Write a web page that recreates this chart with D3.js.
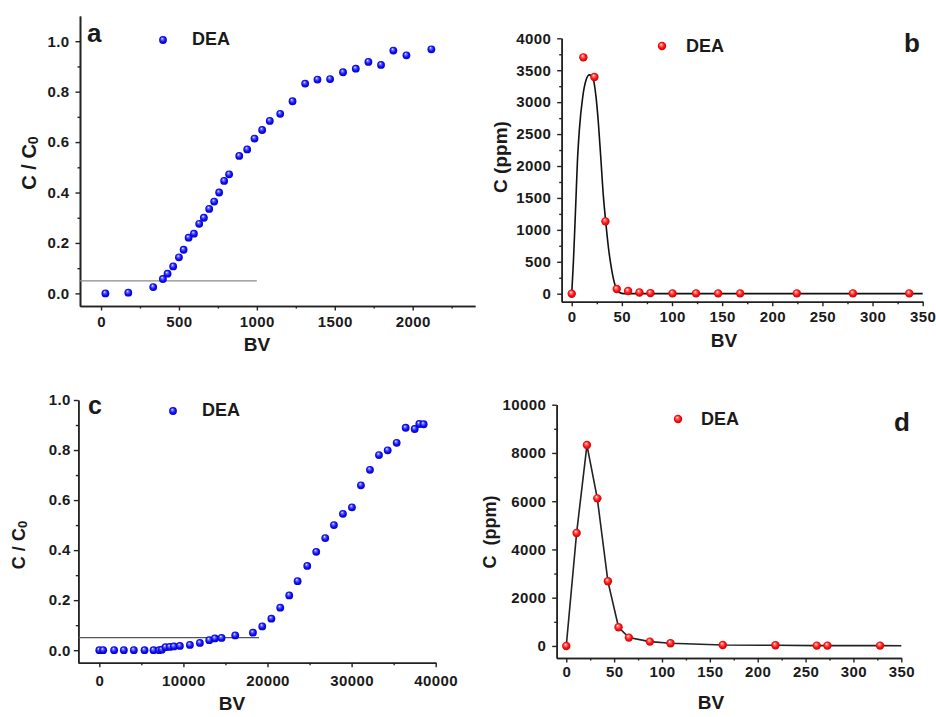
<!DOCTYPE html>
<html>
<head>
<meta charset="utf-8">
<script src="https://cdn.jsdelivr.net/npm/d3@7"></script>
<style>
  body { margin: 0; background: #fff; }
  text { font-family: "Liberation Sans", Arial, sans-serif; font-weight: bold; fill: #1a1a1a; }
</style>
</head>
<body>
<script>
// panel a: breakthrough curve C/C0 vs BV
const aBV  = [28,175,335,397,427,463,500,530,562,596,630,660,694,726,758,790,822,887,938,985,1034,1083,1150,1229,1310,1389,1470,1553,1635,1716,1797,1876,1960,2120];
const aCC0 = [0,0.003,0.025,0.057,0.078,0.107,0.143,0.173,0.221,0.237,0.276,0.300,0.335,0.364,0.40,0.446,0.472,0.545,0.571,0.614,0.648,0.684,0.712,0.762,0.832,0.848,0.850,0.877,0.891,0.918,0.906,0.963,0.944,0.968];
const aLimit = { y: 0.05, to: 1000 };

// panel b: elution C (ppm) vs BV, with fitted curve
const bBV = [0,11.6,22.6,33.6,44.9,56.2,67.5,78.5,100.5,124,146,168,224.5,280.4,336.6];
const bC  = [0,3702,3395,1133,73,42,20,10,5,5,5,5,5,5,5];
const bFitBV = [0,1.6,3.0,4.3,5.6,7.6,11.0,14.3,17.6,21.6,24.2,26.6,28.9,31.6,33.9,36.5,39.9,43.2,46.5,51.5,100,200,350];
const bFitC  = [0,476,998,1520,2043,2565,3087,3348,3427,3348,3087,2670,2148,1520,1128,736,371,136,31,2,2,2,2];

// panel c: breakthrough curve C/C0 vs BV
const cBV  = [0,455,1760,2915,4105,5375,6445,7120,7435,7870,8390,8865,9580,10770,11960,13070,13740,14535,16160,18265,19375,20460,21515,22585,23580,24725,25795,26865,27900,28970,30040,31110,32185,33255,34290,35360,36430,37500,38050,38570];
const cCC0 = [0,0,0,0,0,0,0,0,0.002,0.012,0.013,0.015,0.017,0.021,0.029,0.04,0.047,0.049,0.059,0.070,0.095,0.126,0.170,0.219,0.276,0.337,0.393,0.448,0.5,0.545,0.571,0.659,0.721,0.78,0.799,0.829,0.889,0.884,0.904,0.903];
const cLimit = { y: 0.05, to: 19000 };

// panel d: elution C (ppm) vs BV
const dBV = [0,10.8,21.6,32.4,43.5,54.6,65.4,87.3,108.9,163.5,218.5,261.7,272.8,327.8];
const dC  = [0,4681,8327,6118,2679,773,345,180,110,41,28,14,14,14];
const dTailBV = [350];
const dTailC  = [10];

const svg = d3.select('body').append('svg')
    .attr('width', 936)
    .attr('height', 717);

const defs = svg.append('defs');
function ball(id, light, mid, dark) {
    const gr = defs.append('radialGradient').attr('id', id)
        .attr('cx', '50%').attr('cy', '50%').attr('r', '55%')
        .attr('fx', '38%').attr('fy', '30%');
    gr.append('stop').attr('offset', '0%').attr('stop-color', '#ffffff');
    gr.append('stop').attr('offset', '22%').attr('stop-color', light);
    gr.append('stop').attr('offset', '60%').attr('stop-color', mid);
    gr.append('stop').attr('offset', '100%').attr('stop-color', dark);
}
ball('blue', '#7777ff', '#0f0fff', '#0000b0');
ball('red', '#ff8080', '#ff1010', '#c00000');

function styleAxis(g, fs) {
    g.select('.domain').attr('stroke', '#222').attr('stroke-width', 1.6);
    g.selectAll('.tick line').attr('stroke', '#222').attr('stroke-width', 1.4);
    g.selectAll('.tick text').attr('fill', '#1a1a1a')
        .style('font-size', fs + 'px').style('letter-spacing', '0.4px');
}

function panel(o) {
    const x = d3.scaleLinear().domain(o.xDom).range([o.left, o.right]);
    const y = d3.scaleLinear().domain(o.yDom).range([o.bottom, o.top]);
    const g = svg.append('g');

    g.append('g').attr('transform', `translate(0,${o.bottom})`)
        .call(d3.axisBottom(x).tickValues(o.xMinor).tickSize(2.5).tickSizeOuter(0).tickFormat(''))
        .call(s => styleAxis(s, 15));
    g.append('g').attr('transform', `translate(${o.left},0)`)
        .call(d3.axisLeft(y).tickValues(o.yMinor).tickSize(2.5).tickSizeOuter(0).tickFormat(''))
        .call(s => styleAxis(s, 15));

    g.append('g').attr('transform', `translate(0,${o.bottom})`)
        .call(d3.axisBottom(x).tickValues(o.xTicks).tickSize(4.5).tickSizeOuter(0)
            .tickPadding(o.xPad).tickFormat(o.xFmt || d3.format('d')))
        .call(s => styleAxis(s, 15));
    g.append('g').attr('transform', `translate(${o.left},0)`)
        .call(d3.axisLeft(y).tickValues(o.yTicks).tickSize(4.5).tickSizeOuter(0)
            .tickPadding(o.yPad).tickFormat(o.yFmt || d3.format('d')))
        .call(s => styleAxis(s, 15));

    return { x, y, g };
}

function dots(p, xs, ys, fill, r) {
    p.g.append('g').selectAll('circle')
        .data(xs.map((v, i) => [v, ys[i]]))
        .enter()
        .append('circle')
        .attr('cx', d => p.x(d[0]))
        .attr('cy', d => p.y(d[1]))
        .attr('r', r)
        .attr('fill', `url(#${fill})`);
}

function legend(p, mx, my, tx, ty, fill, r) {
    p.g.append('circle').attr('cx', mx).attr('cy', my).attr('r', r).attr('fill', `url(#${fill})`);
    p.g.append('text').attr('x', tx).attr('y', ty).style('font-size', '18px').text('DEA');
}

// ---- a ----
const pa = panel({
    left: 80, right: 475, top: 16, bottom: 306,
    xDom: [-135, 2400], yDom: [-0.05, 1.1],
    xTicks: d3.range(0, 2001, 500), xMinor: d3.range(250, 2400, 500),
    yTicks: d3.range(0, 1.01, 0.2), yMinor: d3.range(0.1, 1.0, 0.2),
    yFmt: d3.format('.1f'), xPad: 6, yPad: 6
});
pa.g.append('line')
    .attr('x1', pa.x(-135)).attr('x2', pa.x(aLimit.to))
    .attr('y1', pa.y(aLimit.y)).attr('y2', pa.y(aLimit.y))
    .attr('stroke', '#8a8a8a').attr('stroke-width', 1.3);
dots(pa, aBV, aCC0, 'blue', 3.9);
legend(pa, 163, 40, 192, 45, 'blue', 3.9);
pa.g.append('text').attr('x', 87).attr('y', 42).style('font-size', '26px').text('a');
pa.g.append('text').attr('transform', 'translate(36,163) rotate(-90)')
    .attr('text-anchor', 'middle').style('font-size', '20px')
    .call(t => { t.append('tspan').text('C / C'); t.append('tspan').attr('dy', 2).style('font-size', '14px').text('0'); });
pa.g.append('text').attr('x', 257).attr('y', 351).attr('text-anchor', 'middle').style('font-size', '19px').text('BV');

// ---- b ----
const pb = panel({
    left: 561.7, right: 922.7, top: 38.3, bottom: 301.7,
    xDom: [-10, 350], yDom: [-125, 4000],
    xTicks: d3.range(0, 351, 50), xMinor: d3.range(25, 350, 50),
    yTicks: d3.range(0, 4001, 500), yMinor: d3.range(250, 4000, 500),
    xPad: 5, yPad: 6
});
pb.g.append('path')
    .datum(bFitBV.map((v, i) => [v, bFitC[i]]))
    .attr('fill', 'none').attr('stroke', '#111').attr('stroke-width', 1.6)
    .attr('d', d3.line().x(d => pb.x(d[0])).y(d => pb.y(d[1])).curve(d3.curveMonotoneX));
dots(pb, bBV, bC, 'red', 4.2);
legend(pb, 662, 46, 686, 52, 'red', 4.2);
pb.g.append('text').attr('x', 904).attr('y', 52).style('font-size', '26px').text('b');
pb.g.append('text').attr('transform', 'translate(507,157) rotate(-90)')
    .attr('text-anchor', 'middle').style('font-size', '19px').text('C (ppm)');
pb.g.append('text').attr('x', 724).attr('y', 347).attr('text-anchor', 'middle').style('font-size', '19px').text('BV');

// ---- c ----
const pc = panel({
    left: 78.3, right: 435.7, top: 400, bottom: 662.7,
    xDom: [-2500, 40000], yDom: [-0.05, 1.0],
    xTicks: d3.range(0, 40001, 10000), xMinor: d3.range(5000, 40000, 10000),
    yTicks: d3.range(0, 1.01, 0.2), yMinor: d3.range(0.1, 1.0, 0.2),
    yFmt: d3.format('.1f'), xPad: 8, yPad: 3
});
pc.g.append('line')
    .attr('x1', pc.x(-2500)).attr('x2', pc.x(cLimit.to))
    .attr('y1', pc.y(cLimit.y)).attr('y2', pc.y(cLimit.y))
    .attr('stroke', '#555').attr('stroke-width', 1.3);
dots(pc, cBV, cCC0, 'blue', 3.9);
legend(pc, 173, 411, 202, 416, 'blue', 3.9);
pc.g.append('text').attr('x', 88).attr('y', 414).style('font-size', '25px').text('c');
pc.g.append('text').attr('transform', 'translate(25,545) rotate(-90)')
    .attr('text-anchor', 'middle').style('font-size', '18px')
    .call(t => { t.append('tspan').text('C / C'); t.append('tspan').attr('dy', 2).style('font-size', '13px').text('0'); });
pc.g.append('text').attr('x', 232).attr('y', 710).attr('text-anchor', 'middle').style('font-size', '19px').text('BV');

// ---- d ----
const pd = panel({
    left: 556.7, right: 901.3, top: 404.7, bottom: 658,
    xDom: [-10, 350], yDom: [-500, 10000],
    xTicks: d3.range(0, 351, 50), xMinor: d3.range(25, 350, 50),
    yTicks: d3.range(0, 10001, 2000), yMinor: d3.range(1000, 10000, 2000),
    xPad: 4, yPad: 6
});
pd.g.append('path')
    .datum(dBV.concat(dTailBV).map((v, i) => [v, dC.concat(dTailC)[i]]))
    .attr('fill', 'none').attr('stroke', '#222').attr('stroke-width', 1.6)
    .attr('d', d3.line().x(d => pd.x(d[0])).y(d => pd.y(d[1])));
dots(pd, dBV, dC, 'red', 4.2);
legend(pd, 678, 419, 701, 425, 'red', 4.2);
pd.g.append('text').attr('x', 894).attr('y', 431).style('font-size', '26px').text('d');
pd.g.append('text').attr('transform', 'translate(496,532) rotate(-90)')
    .attr('text-anchor', 'middle').style('font-size', '18px').attr('xml:space', 'preserve').text('C  (ppm)');
pd.g.append('text').attr('x', 711).attr('y', 709).attr('text-anchor', 'middle').style('font-size', '19px').text('BV');
</script>
</body>
</html>
